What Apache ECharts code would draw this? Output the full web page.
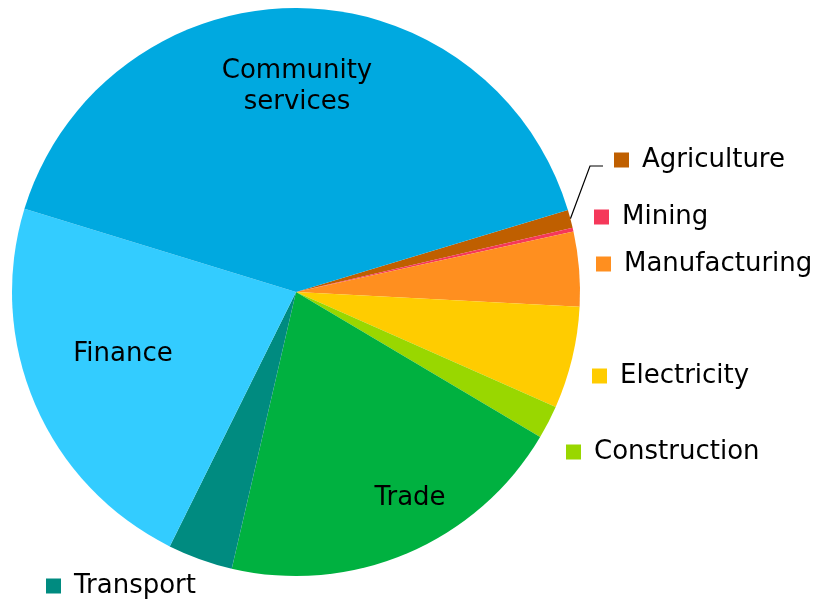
<!DOCTYPE html>
<html>
<head>
<meta charset="utf-8">
<script src="https://cdn.jsdelivr.net/npm/echarts@6/dist/echarts.min.js"></script>
<style>
  html, body { margin: 0; padding: 0; background: #fff; }
  #main { width: 816px; height: 600px; }
</style>
</head>
<body>
<div id="main"></div>
<script>
// sectors, clockwise from the Agriculture slice
const categories = ['Agriculture', 'Mining', 'Manufacturing', 'Electricity', 'Construction', 'Trade', 'Transport', 'Finance', 'Community services']
const values = [1.03, 0.22, 4.25, 5.8, 1.9, 20.1, 3.7, 22.4, 40.6]
const colors = ['#bf5f00', '#f5385a', '#ff8f1f', '#ffcc00', '#99d700', '#00b140', '#008b80', '#33ccff', '#00a9e0']

// where each label sits (inside labels are centred, outside ones start with the square)
const labelPos = [
    { x: 603, y: 166, inside: false },
    { x: 594, y: 217, inside: false },
    { x: 596, y: 264, inside: false },
    { x: 592, y: 376, inside: false },
    { x: 566, y: 452, inside: false },
    { x: 410, y: 498, inside: true },
    { x: 46, y: 586, inside: false },
    { x: 123, y: 354, inside: true },
    { x: 297, y: 87, inside: true },
]

const chart = echarts.init(document.getElementById('main'))

const seriesData = categories.map((name, i) => {
    const pos = labelPos[i]
    const item = {
        name: name,
        value: values[i],
        itemStyle: { color: colors[i] },
    }
    if (pos.inside) {
        item.label = {
            formatter: (p) => p.name.replace(' ', '\n'),
            lineHeight: 31,
        }
        item.labelLine = { show: false }
    } else if (i === 0) {
        // Agriculture: label box starts left of the square and has an empty
        // second line, so the leader line ends short of the square, near its bottom
        item.label = {
            formatter: '{pre|}{sq|}{gap|}{b}\n{sp|}',
            rich: {
                pre: { width: 11 },
                sq: { width: 15, height: 15, backgroundColor: colors[i] },
                gap: { width: 13 },
                b: { fontSize: 26, color: '#000', fontFamily: 'DejaVu Sans' },
                sp: { height: 12, lineHeight: 12, fontSize: 1 },
            },
        }
        item.labelLine = { show: true }
    } else {
        item.label = {
            formatter: '{sq|}{gap|}{b}',
            rich: {
                sq: { width: 15, height: 15, backgroundColor: colors[i] },
                gap: { width: 13 },
                b: { fontSize: 26, color: '#000', fontFamily: 'DejaVu Sans' },
            },
        }
        item.labelLine = { show: false }
    }
    return item
})

chart.setOption({
    animation: false,
    textStyle: { fontFamily: 'DejaVu Sans' },
    series: [
        {
            type: 'pie',
            center: [296, 292],
            radius: 284,
            startAngle: 16.8,
            clockwise: true,
            avoidLabelOverlap: false,
            label: {
                show: true,
                position: 'outside',
                color: '#000',
                fontSize: 26,
                fontFamily: 'DejaVu Sans',
            },
            labelLine: {
                show: false,
                length: 10,
                length2: 13,
                lineStyle: { color: '#000', width: 1.2 },
            },
            itemStyle: { borderWidth: 0 },
            emphasis: { disabled: true },
            data: seriesData,
            labelLayout: (params) => {
                const pos = labelPos[params.dataIndex]
                return {
                    x: pos.x,
                    y: pos.y,
                    align: pos.inside ? 'center' : 'left',
                    verticalAlign: 'middle',
                }
            },
        },
    ],
})
</script>
</body>
</html>
